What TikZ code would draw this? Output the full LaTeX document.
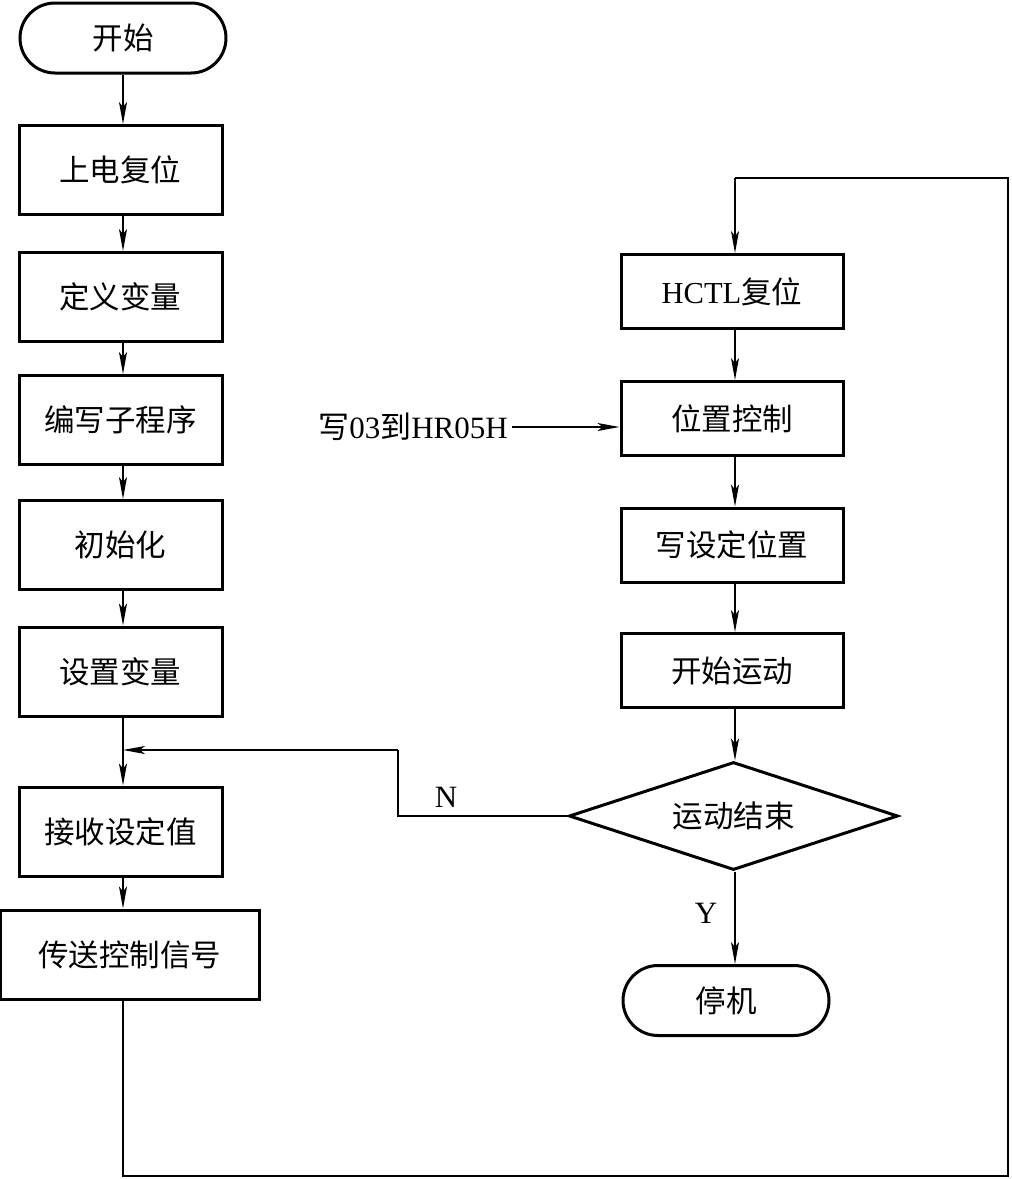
\documentclass[tikz,border=0pt]{standalone}
\usepackage{fontspec}
\setmainfont{Liberation Serif}
\newfontfamily\cjk{Noto Sans CJK SC}
\usetikzlibrary{shapes.geometric,arrows.meta}
\begin{document}
\begin{tikzpicture}[x=1pt,y=-1pt,
  box/.style={draw,line width=3pt,minimum width=203pt,minimum height=89pt,inner sep=0pt,font=\fontsize{30.5}{32}\selectfont\cjk},
  rbox/.style={draw,line width=3pt,minimum width=222pt,minimum height=74pt,inner sep=0pt,font=\fontsize{30.5}{32}\selectfont\cjk},
  term/.style={draw,line width=3pt,rounded corners=35pt,minimum width=206pt,minimum height=70pt,inner sep=0pt,font=\fontsize{30.5}{32}\selectfont\cjk},
  dia/.style={draw,diamond,aspect=3,line width=3pt,minimum width=329pt,minimum height=108pt,inner sep=0pt,font=\fontsize{30.5}{32}\selectfont\cjk},
  lbl/.style={font=\fontsize{31}{32}\selectfont},
  conn/.style={line width=1.5pt},
  arr/.style={conn,-{Stealth[length=22pt,width=8pt,inset=5pt]}}
]
\useasboundingbox (0,0) rectangle (1012,1179);
\node[term] (start) at (123,38) {开始};
\node[box] (s1) at (120.5,170) {上电复位};
\node[box] (s2) at (120.5,297) {定义变量};
\node[box] (s3) at (120.5,420) {编写子程序};
\node[box] (s4) at (120.5,545) {初始化};
\node[box] (s5) at (120.5,671.5) {设置变量};
\node[box] (s6) at (120.5,831.5) {接收设定值};
\node[box,minimum width=259pt] (s7) at (129.5,954.5) {传送控制信号};
\node[rbox] (h1) at (732,291.5) {\fontspec{Liberation Serif}HCTL{\cjk 复位}};
\node[rbox] (h2) at (732,418.5) {位置控制};
\node[rbox] (h3) at (732,545) {写设定位置};
\node[rbox] (h4) at (732,670.5) {开始运动};
\node[dia] (d) at (733.5,816) {运动结束};
\node[term] (stop) at (726,1000.5) {停机};
\node[lbl,anchor=east,inner sep=0pt] (w) at (508,427) {{\cjk 写}03{\cjk 到}HR05H};
\node[lbl] (n) at (446,797) {N};
\node[lbl] (y) at (706,913) {Y};
\coordinate (m) at (123,750);
\coordinate (nb) at (398,816);
\coordinate (nt) at (398,750);
\coordinate (b1) at (123,1176);
\coordinate (b2) at (1008,1176);
\coordinate (b3) at (1008,178);
\coordinate (b4) at (735,178);
\draw[arr] (start.south -| m) -- (s1.north -| m);
\draw[arr] (s1.south -| m) -- (s2.north -| m);
\draw[arr] (s2.south -| m) -- (s3.north -| m);
\draw[arr] (s3.south -| m) -- (s4.north -| m);
\draw[arr] (s4.south -| m) -- (s5.north -| m);
\draw[arr] (s5.south -| m) -- (s6.north -| m);
\draw[arr] (s6.south -| m) -- (s7.north -| m);
\draw[conn] (s7.south -| m) -- (b1) -- (b2) -- (b3) -- (b4);
\draw[arr] (b4) -- (h1.north -| b4);
\draw[arr] (h1.south -| b4) -- (h2.north -| b4);
\draw[arr] (h2.south -| b4) -- (h3.north -| b4);
\draw[arr] (h3.south -| b4) -- (h4.north -| b4);
\draw[arr] (h4.south -| b4) -- (d.north -| b4);
\draw[arr] (d.south -| b4) -- (stop.north -| b4);
\draw[conn] (d.west) -- (nb) -- (nt);
\draw[arr] (nt) -- (m);
\draw[arr] ([xshift=4pt]w.east) -- (w.east -| h2.west);
\end{tikzpicture}
\end{document}
